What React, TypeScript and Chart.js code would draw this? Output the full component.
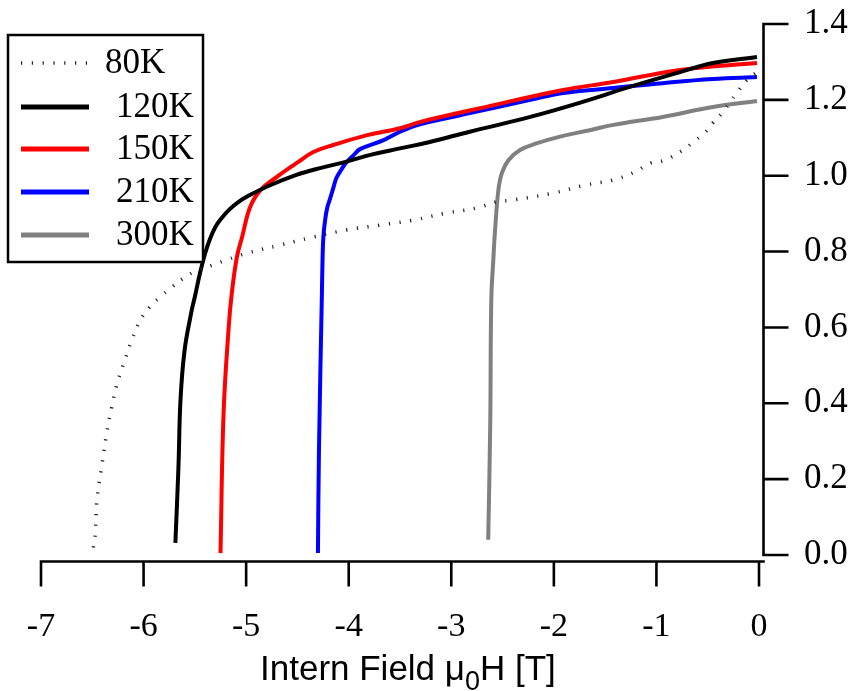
import React, { useEffect, useRef } from 'react';
import { Chart, registerables } from 'chart.js';

Chart.register(...registerables);

// ---- Data ----
const seriesLabels = ['80K', '120K', '150K', '210K', '300K'];
const seriesColors = ['#222222', '#000000', '#ff0000', '#0000ff', '#808080'];

const h80 = [-6.49, -6.47, -6.455, -6.41, -6.36, -6.31, -6.26, -6.2, -6.11, -6.03, -5.94, -5.84, -5.72, -5.61, -5.51, -5.32, -5.19, -4.99, -4.67, -4.35, -4.02, -3.69, -3.37, -3.04, -2.75, -2.56, -2.4, -2.01, -1.7, -1.42, -1.21, -1.06, -0.92, -0.74, -0.64, -0.53, -0.45, -0.36, -0.28, -0.21, -0.12, -0.02];
const m80 = [0.02, 0.06, 0.145, 0.23, 0.32, 0.39, 0.45, 0.5, 0.57, 0.62, 0.654, 0.68, 0.707, 0.73, 0.746, 0.765, 0.778, 0.796, 0.817, 0.838, 0.857, 0.87, 0.883, 0.902, 0.915, 0.931, 0.936, 0.954, 0.975, 0.989, 1.01, 1.033, 1.041, 1.068, 1.089, 1.113, 1.139, 1.165, 1.194, 1.221, 1.252, 1.273];

const h120 = [-5.69, -5.66, -5.64, -5.6, -5.53, -5.5, -5.45, -5.4, -5.35, -5.3, -5.24, -5.16, -5.08, -4.99, -4.8, -4.51, -4.28, -4.02, -3.79, -3.5, -3.21, -2.82, -2.23, -1.75, -1.26, -0.77, -0.45, -0.02];
const m120 = [0.032, 0.232, 0.409, 0.54, 0.646, 0.681, 0.743, 0.795, 0.835, 0.865, 0.888, 0.912, 0.93, 0.945, 0.971, 1.002, 1.02, 1.037, 1.055, 1.072, 1.089, 1.116, 1.155, 1.192, 1.234, 1.273, 1.297, 1.313];

const h150 = [-5.25, -5.22, -5.17, -5.14, -5.09, -5.04, -4.96, -4.86, -4.7, -4.51, -4.34, -4.15, -3.82, -3.5, -3.3, -2.72, -1.91, -1.42, -0.77, -0.02];
const m150 = [0.005, 0.374, 0.601, 0.69, 0.786, 0.838, 0.918, 0.962, 0.997, 1.033, 1.063, 1.081, 1.107, 1.125, 1.142, 1.178, 1.226, 1.247, 1.279, 1.297];

const h210 = [-4.3, -4.29, -4.262, -4.255, -4.247, -4.23, -4.21, -4.18, -4.15, -4.12, -4.07, -4.02, -3.95, -3.89, -3.66, -3.5, -3.34, -3.04, -2.82, -2.23, -1.91, -1.42, -0.94, -0.45, -0.02];
const m210 = [0.005, 0.277, 0.681, 0.78, 0.839, 0.883, 0.915, 0.941, 0.968, 0.994, 1.017, 1.036, 1.055, 1.07, 1.094, 1.116, 1.133, 1.152, 1.165, 1.2, 1.218, 1.231, 1.244, 1.255, 1.26];

const h300 = [-2.64, -2.62, -2.61, -2.59, -2.573, -2.541, -2.508, -2.443, -2.33, -2.17, -1.94, -1.65, -1.42, -0.94, -0.45, -0.02];
const m300 = [0.04, 0.35, 0.672, 0.78, 0.857, 0.962, 1.006, 1.041, 1.068, 1.085, 1.103, 1.12, 1.134, 1.155, 1.181, 1.197];

const xTicks = [-7, -6, -5, -4, -3, -2, -1, 0];
const yTicks = [0, 0.2, 0.4, 0.6, 0.8, 1.0, 1.2, 1.4];
const xTitleMain = 'Intern Field μ';
const xTitleSub = '0';
const xTitleEnd = 'H [T]';

const allH = [h80, h120, h150, h210, h300];
const allM = [m80, m120, m150, m210, m300];

const DOT_DASH = [1.2, 9.6];

const overlayPlugin = {
  id: 'overlay',
  afterDraw(chart: any) {
    const { ctx } = chart;
    const xs = chart.scales.x;
    const ys = chart.scales.y;
    const x0 = xs.getPixelForValue(0);
    const y0 = ys.getPixelForValue(0);
    const axisY = y0 + 6.5;
    const axisX = x0 + 4.5;
    ctx.save();
    ctx.strokeStyle = '#000';
    ctx.lineWidth = 2.6;
    ctx.lineCap = 'butt';
    ctx.beginPath();
    ctx.moveTo(xs.getPixelForValue(xTicks[0]) - 1.3, axisY);
    ctx.lineTo(axisX + 1.3, axisY);
    xTicks.forEach((v) => {
      const px = xs.getPixelForValue(v);
      ctx.moveTo(px, axisY);
      ctx.lineTo(px, axisY + 25);
    });
    ctx.moveTo(axisX, ys.getPixelForValue(yTicks[yTicks.length - 1]) - 1.3);
    ctx.lineTo(axisX, y0 + 1.3);
    yTicks.forEach((v) => {
      const py = ys.getPixelForValue(v);
      ctx.moveTo(axisX, py);
      ctx.lineTo(axisX + 25, py);
    });
    ctx.stroke();

    // axis title with subscript
    ctx.fillStyle = '#000';
    ctx.textBaseline = 'alphabetic';
    ctx.textAlign = 'left';
    const bigFont = '35px "Liberation Sans", Arial, sans-serif';
    const subFont = '27px "Liberation Sans", Arial, sans-serif';
    ctx.font = bigFont;
    const w1 = ctx.measureText(xTitleMain).width;
    ctx.font = subFont;
    const w2 = ctx.measureText(xTitleSub).width;
    let tx = 260;
    const ty = 680;
    ctx.font = bigFont;
    ctx.fillText(xTitleMain, tx, ty);
    tx += w1;
    ctx.font = subFont;
    ctx.fillText(xTitleSub, tx, ty + 10);
    tx += w2;
    ctx.font = bigFont;
    ctx.fillText(xTitleEnd, tx, ty);

    // legend box
    const bx = 8, by = 35, bw = 195, bh = 227;
    ctx.fillStyle = '#fff';
    ctx.fillRect(bx, by, bw, bh);
    ctx.lineWidth = 2.5;
    ctx.strokeStyle = '#000';
    ctx.strokeRect(bx, by, bw, bh);
    const rows = [63, 107, 149, 192, 235];
    chart.data.datasets.forEach((ds: any, i: number) => {
      const ry = rows[i];
      ctx.save();
      ctx.beginPath();
      ctx.strokeStyle = ds.borderColor;
      if (ds.borderDash && ds.borderDash.length) {
        ctx.setLineDash(ds.borderDash);
        ctx.lineWidth = ds.borderWidth;
      } else {
        ctx.lineWidth = 5;
      }
      ctx.moveTo(21, ry);
      ctx.lineTo(89, ry);
      ctx.stroke();
      ctx.restore();
      ctx.fillStyle = '#000';
      ctx.font = '35px "Liberation Serif", "Times New Roman", serif';
      ctx.textBaseline = 'middle';
      ctx.textAlign = 'left';
      ctx.fillText(ds.label, i === 0 ? 105 : 116, ry + 1);
    });
    ctx.restore();
  },
};

export default function App() {
  const ref = useRef<HTMLCanvasElement | null>(null);
  useEffect(() => {
    if (!ref.current) return;
    const datasets = seriesLabels.map((label, i) => ({
      label,
      data: allH[i].map((h, j) => ({ x: h, y: allM[i][j] })),
      borderColor: seriesColors[i],
      backgroundColor: seriesColors[i],
      borderWidth: i === 0 ? 3.5 : 4,
      borderDash: i === 0 ? DOT_DASH : [],
      pointRadius: 0,
      fill: false,
      tension: 0.4,
    }));
    const chart = new Chart(ref.current, {
      type: 'line',
      data: { datasets },
      options: {
        animation: false,
        responsive: true,
        maintainAspectRatio: false,
        events: [],
        layout: { padding: { left: 41, top: 24, right: 0, bottom: 0 } },
        plugins: { legend: { display: false }, tooltip: { enabled: false }, title: { display: false } },
        scales: {
          x: {
            type: 'linear',
            min: -7,
            max: 0,
            afterBuildTicks: (s: any) => {
              s.ticks = xTicks.map((v) => ({ value: v }));
            },
            afterFit: (s: any) => {
              s.height = 136;
              s.paddingLeft = 0;
              s.paddingRight = 0;
              s.paddingTop = 0;
              s.paddingBottom = 0;
            },
            grid: { display: false, drawTicks: false },
            border: { display: false },
            ticks: {
              autoSkip: false,
              maxRotation: 0,
              minRotation: 0,
              padding: 52,
              color: '#000',
              font: { family: '"Liberation Serif", "Times New Roman", serif', size: 34 },
              callback: (v: any) => String(v),
            },
          },
          y: {
            type: 'linear',
            position: 'right',
            min: 0,
            max: 1.4,
            afterBuildTicks: (s: any) => {
              s.ticks = yTicks.map((v) => ({ value: v }));
            },
            afterFit: (s: any) => {
              s.width = 97;
              s.paddingTop = 0;
              s.paddingBottom = 0;
              s.paddingLeft = 0;
              s.paddingRight = 0;
            },
            grid: { display: false, drawTicks: false },
            border: { display: false },
            ticks: {
              autoSkip: false,
              padding: 45,
              color: '#000',
              font: { family: '"Liberation Serif", "Times New Roman", serif', size: 35 },
              callback: (v: any) => Number(v).toFixed(1),
            },
          },
        },
      },
      plugins: [overlayPlugin],
    });
    return () => chart.destroy();
  }, []);
  return (
    <div style={{ position: 'fixed', left: 0, top: 0, width: 856, height: 691, background: '#fff' }}>
      <canvas ref={ref} />
    </div>
  );
}
